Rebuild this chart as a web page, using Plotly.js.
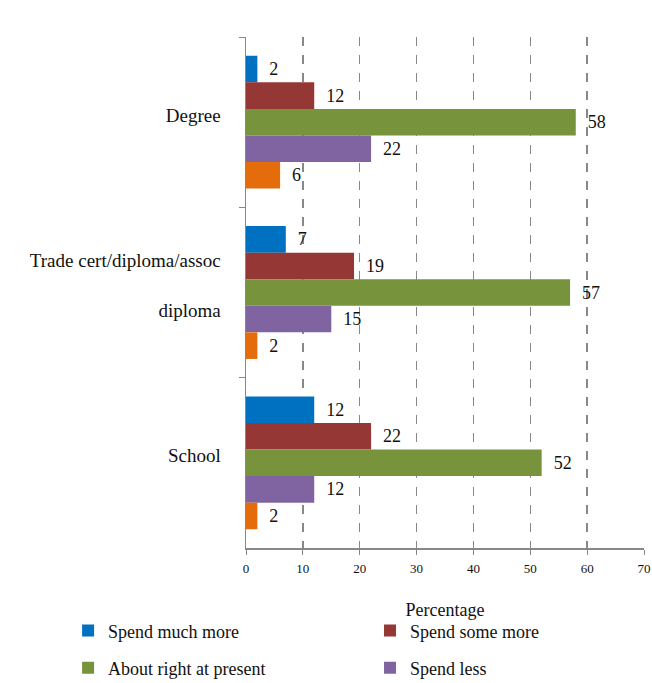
<!DOCTYPE html>
<html>
<head>
<meta charset="utf-8">
<script src="https://cdn.plot.ly/plotly-3.0.1.min.js"></script>
<style>html,body{margin:0;padding:0;background:#fff;}#chart{width:652px;height:683px;}</style>
</head>
<body>
<div id="chart"></div>
<script>
var categories = ["Degree", "Trade cert/diploma/assoc<br> <br>diploma", "School"];
var seriesNames = ["Spend much more", "Spend some more", "About right at present", "Spend less", "Don't know"];
var spendMuchMore = [2, 7, 12];
var spendSomeMore = [12, 19, 22];
var aboutRight = [58, 57, 52];
var spendLess = [22, 15, 12];
var dontKnow = [6, 2, 2];
var xTicks = [0, 10, 20, 30, 40, 50, 60, 70];

var colors = ["#0070C0", "#953735", "#77933C", "#8064A2", "#E46C0A"];
var values = [spendMuchMore, spendSomeMore, aboutRight, spendLess, dontKnow];
var legendIds = ["legend", "legend2", "legend3", "legend4", "legend"];
var font = "Liberation Serif, Times New Roman, serif";

var traces = values.map(function (v, i) {
  return {
    type: "bar",
    orientation: "h",
    name: seriesNames[i],
    y: categories,
    x: v,
    marker: {color: colors[i]},
    text: v.map(function (n) { return "  " + n; }),
    textposition: "outside",
    textfont: {family: font, size: 18, color: "#111"},
    constraintext: "none",
    cliponaxis: false,
    showlegend: i < 4,
    legend: legendIds[i],
    hoverinfo: "x+name"
  };
});

function legendAt(x, y) {
  return {
    orientation: "h",
    x: x, xanchor: "left",
    y: y, yanchor: "middle",
    font: {family: font, size: 18, color: "#111"},
    bgcolor: "rgba(0,0,0,0)"
  };
}

var layout = {
  width: 652,
  height: 683,
  margin: {l: 246, r: 8, t: 37, b: 135, autoexpand: false},
  paper_bgcolor: "#fff",
  plot_bgcolor: "#fff",
  barmode: "group",
  bargap: 0.22,
  bargroupgap: 0,
  font: {family: font, size: 18, color: "#111"},
  xaxis: {
    range: [0, 70],
    tickvals: xTicks,
    ticktext: xTicks.map(String),
    tickfont: {family: font, size: 13, color: "#111"},
    ticklabelstandoff: 3,
    showgrid: true,
    gridcolor: "#888",
    griddash: "dash",
    gridwidth: 1.5,
    showline: true,
    linecolor: "#888",
    linewidth: 1.5,
    ticks: "outside",
    ticklen: 5,
    tickcolor: "#888",
    zeroline: false,
    title: {text: "Percentage", font: {family: font, size: 18, color: "#111"}, standoff: 28}
  },
  yaxis: {
    autorange: "reversed",
    type: "category",
    tickson: "boundaries",
    ticks: "outside",
    ticklen: 6,
    tickcolor: "#888",
    showline: true,
    linecolor: "#888",
    linewidth: 1.5,
    showgrid: false,
    ticklabelstandoff: 20,
    ticklabelshift: 7,
    tickfont: {family: font, size: 19, color: "#111"}
  },
  legend: legendAt(-0.447, -0.162),
  legend2: legendAt(0.3116, -0.162),
  legend3: legendAt(-0.447, -0.235),
  legend4: legendAt(0.3116, -0.235)
};

Plotly.newPlot("chart", traces, layout, {displayModeBar: false, staticPlot: true});
</script>
</body>
</html>
